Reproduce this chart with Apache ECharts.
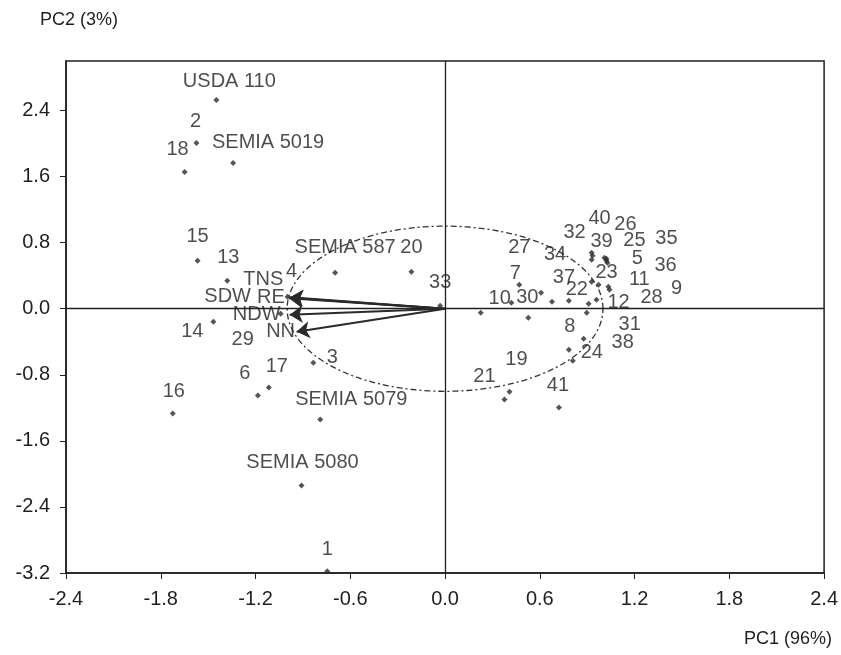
<!DOCTYPE html>
<html><head><meta charset="utf-8">
<script src="https://cdn.jsdelivr.net/npm/echarts@6/dist/echarts.min.js"></script>
<style>html,body{margin:0;padding:0;background:#fff}#c{width:841px;height:655px}</style>
</head><body><div id="c"></div>
<script>
// ---- data ----
const pointNames = ['USDA 110','2','SEMIA 5019','18','15','13','4','SEMIA 587','20','33','14','29','3','6','17','16','SEMIA 5079','SEMIA 5080','1',
  '27','7','10','30','34','37','22','12','28','23','11','9','36','5','25','35','39','32','40','26','8','24','38','31','19','21','41'];
const pc1 = [-1.448,-1.574,-1.342,-1.649,-1.567,-1.379,-0.997,-0.696,-0.213,-0.031,-1.467,-1.041,-0.834,-1.185,-1.116,-1.724,-0.790,-0.909,-0.746,
  0.470,0.420,0.226,0.527,0.608,0.677,0.784,0.909,0.959,0.972,1.034,1.041,0.928,1.028,1.009,1.022,0.928,0.928,0.934,1.022,0.784,0.809,0.878,0.897,0.408,0.376,0.721];
const pc2 = [2.527,2.007,1.765,1.657,0.580,0.339,0.145,0.435,0.447,0.036,-0.157,-0.060,-0.653,-1.052,-0.955,-1.270,-1.342,-2.140,-3.180,
  0.290,0.073,-0.048,-0.109,0.193,0.085,0.097,0.060,0.109,0.290,0.266,0.230,0.326,0.556,0.617,0.580,0.593,0.677,0.641,0.605,-0.496,-0.629,-0.363,-0.048,-1.004,-1.100,-1.197];
const vectorNames = ['TNS','SDW','RE','NDW','NN'];
const vectorPC1 = [-0.980,-0.984,-0.988,-0.984,-0.940];
const vectorPC2 = [0.140,0.133,0.126,-0.073,-0.278];
const circleRadius = 1;
const xLabel = 'PC1 (96%)';
const yLabel = 'PC2 (3%)';

// ---- label layout (pixel offsets of text centre from the marker) ----
const labelOffset = {
  'USDA 110':[13,-19],'2':[-1,-22],'SEMIA 5019':[35,-21],'18':[-7,-22],'15':[0,-24],'13':[1,-23],'4':[4,-25],
  'SEMIA 587':[10,-25],'20':[0,-24],'33':[0,-23],'14':[-21,10],'29':[-38,26],'3':[19,-5],'6':[-13,-22],'17':[8,-21],
  '16':[1,-22],'SEMIA 5079':[31,-20],'SEMIA 5080':[1,-23],'1':[0,-22],
  '27':[0,-37],'7':[4,-29],'10':[19,-14],'30':[-1,-20],'34':[14,-38],'37':[12,-24],'22':[8,-11],'12':[30,-1],'28':[55,-2],
  '23':[8,-12],'11':[31,-7],'9':[67,-1],'36':[74,-16],'5':[30,-4],'25':[30,-17],'35':[60,-22],'39':[10,-18],'32':[-17,-20],
  '40':[7,-37],'26':[19,-34],'8':[1,-23],'24':[19,-8],'38':[39,4],'31':[43,12],'19':[7,-32],'21':[-20,-23],'41':[-1,-22]
};
const vecLabelOffset = {'TNS':[-27,-18],'SDW':[-62,-1],'RE':[-18,-1],'NDW':[-33,0],'NN':[-16,0]};

const FONT = "'Liberation Sans', Arial, sans-serif";
const INK = '#1f1f1f';

const chart = echarts.init(document.getElementById('c'), null, {renderer:'canvas'});
const option = {
  backgroundColor:'#fff',
  animation:false,
  grid:{left:66,right:10,top:61,bottom:82,show:true,borderColor:INK,borderWidth:1.5,backgroundColor:'transparent'},
  xAxis:{type:'value',min:-2.4,max:2.4,interval:0.6,
    axisLine:{show:true,onZero:false,lineStyle:{color:INK,width:1.5}},
    axisTick:{show:true,inside:false,length:6,lineStyle:{color:INK}},
    axisLabel:{margin:16,color:INK,fontSize:20,fontFamily:FONT,formatter:v=>v.toFixed(1)},
    splitLine:{show:false}},
  yAxis:{type:'value',min:-3.2,max:3.0,interval:0.8,
    axisLine:{show:true,onZero:false,lineStyle:{color:INK,width:1.5}},
    axisTick:{show:true,inside:false,length:6,lineStyle:{color:INK}},
    axisLabel:{margin:16,color:INK,fontSize:20,fontFamily:FONT,showMaxLabel:false,formatter:v=>v.toFixed(1)},
    splitLine:{show:false}},
  graphic:[
    {type:'text',left:40,top:11,style:{text:yLabel,fill:INK,font:"18px "+FONT}},
    {type:'text',right:9,top:630,style:{text:xLabel,fill:INK,font:"18px "+FONT}}
  ],
  series:[
    {type:'custom',coordinateSystem:'cartesian2d',data:[[0,0]],z:1,silent:true,
      renderItem:function(params,api){
        const pts=[];
        for(let i=0;i<=180;i++){const a=i/180*2*Math.PI;pts.push(api.coord([circleRadius*Math.cos(a),circleRadius*Math.sin(a)]));}
        return {type:'polyline',shape:{points:pts},style:{stroke:'#333',lineWidth:1.3,lineDash:[6,3,2,3],fill:null}};
      }},
    {type:'scatter',symbol:'diamond',symbolSize:6,itemStyle:{color:'#2a2a2a'},z:4,
      data:pointNames.map((n,i)=>({name:n,value:[pc1[i],pc2[i]],
        label:{show:true,position:'inside',offset:labelOffset[n]||[0,-22]}})),
      label:{show:true,formatter:p=>p.name,color:INK,fontSize:20,fontFamily:FONT,align:'center',verticalAlign:'middle'},
      markLine:{silent:true,symbol:'none',label:{show:false},lineStyle:{color:INK,type:'solid',width:1.3},
        data:[{xAxis:0},{yAxis:0}]}},
    {type:'lines',coordinateSystem:'cartesian2d',z:5,symbol:['none','arrow'],symbolSize:13,
      lineStyle:{color:'#2a2a2a',width:2,opacity:1,curveness:0},
      data:vectorNames.map((n,i)=>({coords:[[0,0],[vectorPC1[i],vectorPC2[i]]]}))},
    {type:'scatter',symbolSize:0,z:6,silent:true,
      data:vectorNames.map((n,i)=>({name:n,value:[vectorPC1[i],vectorPC2[i]],
        label:{show:true,position:'inside',offset:vecLabelOffset[n]}})),
      label:{show:true,formatter:p=>p.name,color:INK,fontSize:20,fontFamily:FONT,align:'center',verticalAlign:'middle'}}
  ]
};
chart.setOption(option);
</script></body></html>
